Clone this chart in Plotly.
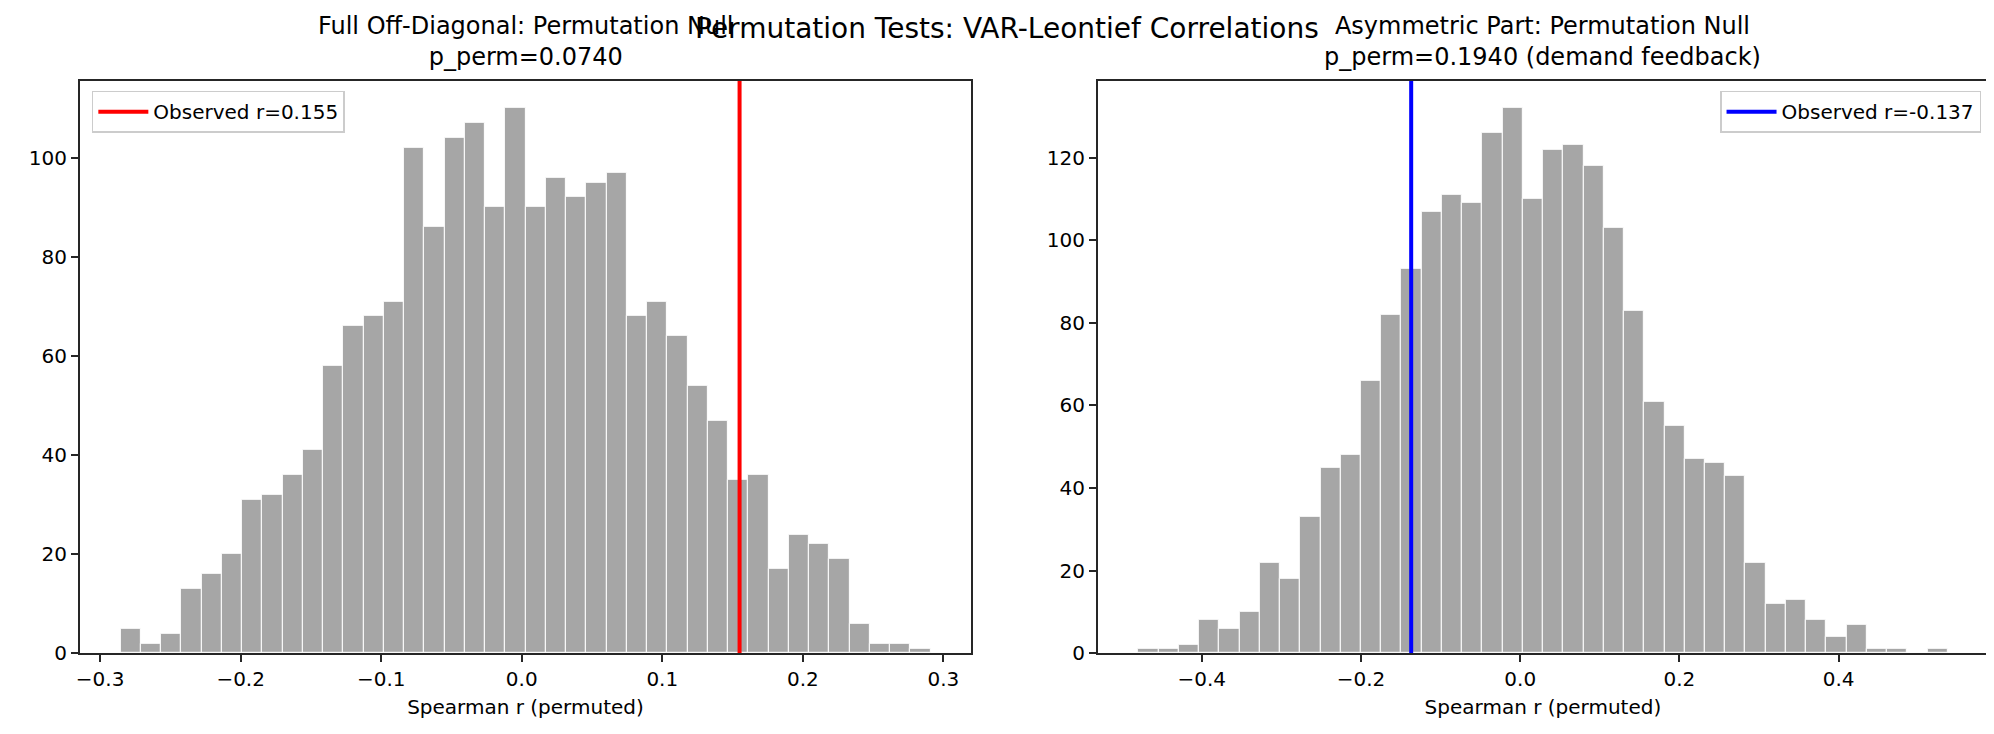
import numpy as np
import plotly.graph_objects as go

# permutation null histograms (40 bins each), counts
full_counts = [5, 2, 4, 13, 16, 20, 31, 32, 36, 41,
               58, 66, 68, 71, 102, 86, 104, 107, 90, 110,
               90, 96, 92, 95, 97, 68, 71, 64, 54, 47,
               35, 36, 17, 24, 22, 19, 6, 2, 2, 1]
full_lo, full_hi = -0.2856, 0.2909
full_obs = 0.155
full_p = 0.0740

asym_counts = [1, 1, 2, 8, 6, 10, 22, 18, 33, 45,
               48, 66, 82, 93, 107, 111, 109, 126, 132, 110,
               122, 123, 118, 103, 83, 61, 55, 47, 46, 43,
               22, 12, 13, 8, 4, 7, 1, 1, 0, 1]
asym_lo, asym_hi = -0.4798, 0.5368
asym_obs = -0.137
asym_p = 0.1940

full_ticks = [-0.3, -0.2, -0.1, 0.0, 0.1, 0.2, 0.3]
asym_ticks = [-0.4, -0.2, 0.0, 0.2, 0.4]
full_yticks = [0, 20, 40, 60, 80, 100]
asym_yticks = [0, 20, 40, 60, 80, 100, 120]

W, H = 1994, 734
FONT = "DejaVu Sans"
SPINE = "#262626"


def bin_centers(lo, hi, n):
    edges = np.linspace(lo, hi, n + 1)
    return (edges[:-1] + edges[1:]) / 2, edges[1] - edges[0]


def padded(lo, hi):
    # matplotlib style 5% margins
    pad = (hi - lo) * 0.05
    return [lo - pad, hi + pad]


fig = go.Figure()

panels = [
    (full_counts, full_lo, full_hi, full_obs, "red", "x", "y", "legend"),
    (asym_counts, asym_lo, asym_hi, asym_obs, "blue", "x2", "y2", "legend2"),
]
ytops = []
for counts, lo, hi, obs, col, xa, ya, lg in panels:
    centers, w = bin_centers(lo, hi, len(counts))
    fig.add_trace(go.Bar(
        x=centers, y=counts, width=w,
        marker=dict(color="#a6a6a6", line=dict(color="white", width=1)),
        xaxis=xa, yaxis=ya, showlegend=False, hoverinfo="skip"
    ))
    ytop = max(counts) * 1.05
    ytops.append(ytop)
    fig.add_trace(go.Scatter(
        x=[obs, obs], y=[0, ytop], mode="lines",
        line=dict(color=col, width=4),
        name=f"Observed r={obs:.3f}",
        xaxis=xa, yaxis=ya, legend=lg
    ))

axis_common = dict(
    showgrid=False, zeroline=False, showline=True, mirror=True,
    linecolor=SPINE, linewidth=1.7, ticks="outside", ticklen=7,
    tickwidth=1.7, tickcolor=SPINE,
    tickfont=dict(family=FONT, size=20, color="black"),
)
xlabel = dict(text="Spearman r (permuted)", standoff=10,
              font=dict(family=FONT, size=20))
legend_common = dict(yanchor="top", bgcolor="rgba(255,255,255,0.8)",
                     bordercolor="#cccccc", borderwidth=1.5, itemwidth=50,
                     font=dict(family=FONT, size=20))

fig.update_layout(
    width=W, height=H,
    margin=dict(l=0, r=0, t=0, b=0),
    paper_bgcolor="white", plot_bgcolor="white",
    font=dict(family=FONT, color="black"),
    bargap=0,
    xaxis=dict(domain=[68 / W, 961 / W], anchor="y",
               range=padded(full_lo, full_hi), tickvals=full_ticks,
               tickformat=".1f", title=xlabel, **axis_common),
    yaxis=dict(domain=[1 - 656 / H, 1 - 74 / H], anchor="x",
               range=[0, ytops[0]], tickvals=full_yticks, **axis_common),
    xaxis2=dict(domain=[1088 / W, 1980 / W], anchor="y2",
                range=padded(asym_lo, asym_hi), tickvals=asym_ticks,
                tickformat=".1f", title=xlabel, **axis_common),
    yaxis2=dict(domain=[1 - 656 / H, 1 - 74 / H], anchor="x2",
                range=[0, ytops[1]], tickvals=asym_yticks, **axis_common),
    legend=dict(x=80 / W, y=1 - 84 / H, xanchor="left", **legend_common),
    legend2=dict(x=1973 / W, y=1 - 84 / H, xanchor="right", **legend_common),
)

# subplot titles
titles = [
    (f"Full Off-Diagonal: Permutation Null<br>p_perm={full_p:.4f}", (68 + 961) / 2 / W),
    (f"Asymmetric Part: Permutation Null<br>p_perm={asym_p:.4f} (demand feedback)", (1088 + 1980) / 2 / W),
]
for txt, xc in titles:
    fig.add_annotation(text=txt, x=xc, y=1 - 66 / H, xref="paper", yref="paper",
                       xanchor="center", yanchor="bottom", showarrow=False,
                       font=dict(family=FONT, size=24, color="black"))

fig.add_annotation(text="Permutation Tests: VAR-Leontief Correlations",
                   x=0.5, y=1 - 2 / H, xref="paper", yref="paper",
                   xanchor="center", yanchor="top", showarrow=False,
                   font=dict(family=FONT, size=28, color="black"))

fig.write_html("out.html")
